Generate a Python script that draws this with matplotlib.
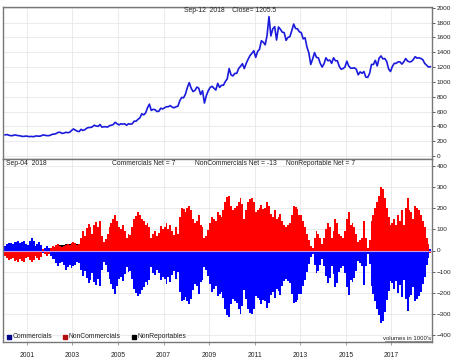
import numpy as np
import matplotlib.pyplot as plt
from matplotlib.patches import Rectangle

# monthly closes, Jan 2000 .. Sep 2018
price = [
    285, 290, 280, 275, 275, 285, 280, 275, 272, 265, 265, 270,
    265, 262, 265, 260, 270, 270, 267, 272, 285, 280, 275, 275,
    282, 295, 295, 305, 320, 320, 305, 310, 320, 315, 320, 345,
    365, 350, 335, 330, 360, 345, 355, 375, 385, 385, 395, 415,
    405, 400, 425, 390, 395, 395, 390, 410, 415, 425, 455, 435,
    420, 435, 430, 435, 415, 435, 430, 435, 470, 470, 495, 515,
    570, 555, 580, 650, 700, 615, 630, 625, 600, 605, 645, 635,
    650, 665, 665, 680, 660, 650, 665, 670, 745, 790, 785, 835,
    925, 990, 915, 870, 885, 930, 915, 830, 880, 715, 815, 880,
    925, 940, 915, 890, 980, 925, 955, 955, 1005, 1040, 1180, 1095,
    1080, 1115, 1115, 1180, 1210, 1245, 1180, 1250, 1305, 1355, 1385, 1420,
    1330, 1410, 1440, 1555, 1535, 1500, 1630, 1880, 1620, 1715, 1745, 1565,
    1740, 1710, 1670, 1665, 1560, 1600, 1610, 1690, 1780, 1720, 1715, 1675,
    1665, 1580, 1595, 1470, 1390, 1235, 1310, 1395, 1330, 1325, 1250, 1200,
    1245, 1325, 1285, 1295, 1250, 1325, 1285, 1285, 1210, 1170, 1180, 1200,
    1280, 1215, 1185, 1185, 1190, 1170, 1095, 1135, 1115, 1140, 1065, 1060,
    1115, 1235, 1235, 1290, 1215, 1320, 1350, 1310, 1315, 1275, 1175, 1140,
    1210, 1250, 1250, 1270, 1270, 1240, 1270, 1315, 1280, 1270, 1275, 1300,
    1340, 1320, 1325, 1315, 1300, 1250, 1225, 1200, 1205,
]

# net positions (1000's), same months
noncomm = [
    -25, -35, -45, -40, -35, -50, -45, -55, -40, -50, -55, -35,
    -30, -45, -55, -45, -25, -35, -45, -30, 5, -15, -25, -15,
    10, 20, 15, 25, 30, 20, 15, 20, 25, 30, 25, 35,
    40, 35, 25, 30, 60, 90, 70, 105, 125, 110, 80, 120,
    135, 110, 140, 70, 40, 55, 80, 110, 130, 150, 170, 140,
    110, 100, 120, 90, 60, 80, 75, 110, 150, 165, 180, 170,
    150, 140, 120, 130, 110, 60, 80, 90, 70, 85, 115, 100,
    110, 130, 100, 120, 90, 75, 110, 80, 160, 200, 195, 180,
    200, 210, 190, 150, 130, 140, 170, 120, 110, 60, 70, 95,
    130, 160, 150, 140, 180, 170, 160, 190, 230, 255, 260, 210,
    190, 200, 210, 230, 250, 220, 150, 190, 230, 245, 250, 230,
    180, 190, 200, 215, 195, 200, 230, 210, 175, 160, 190, 150,
    160, 175, 140, 120, 110, 120, 130, 170, 210, 205, 195, 170,
    170, 140, 110, 80, 50, 20, 10, 60, 90, 80, 60, 30,
    60, 100, 130, 110, 60, 90, 150, 130, 80, 70, 60, 90,
    150, 180, 120, 130, 110, 80, 40, 50, 60, 140, 60, 10,
    50, 140, 170, 200, 230, 260, 300, 290, 250, 200, 160, 120,
    130, 150, 120, 170, 140, 190, 120, 200, 250, 190, 180, 150,
    210, 200, 190, 170, 140, 110, 60, 30, -13,
]

comm = [
    20, 30, 35, 35, 30, 40, 40, 45, 35, 40, 45, 30,
    25, 45, 60, 45, 20, 30, 40, 25, -10, 10, 20, 10,
    -25, -40, -40, -60, -75, -60, -55, -70, -90, -80, -70, -85,
    -75, -70, -55, -60, -90, -120, -95, -130, -155, -140, -105, -150,
    -165, -135, -170, -90, -55, -70, -100, -135, -160, -180, -205, -170,
    -135, -125, -145, -110, -80, -100, -95, -135, -180, -200, -215, -205,
    -185, -175, -150, -165, -140, -80, -105, -115, -90, -105, -140, -125,
    -135, -160, -125, -150, -115, -95, -135, -100, -195, -240, -235, -220,
    -240, -255, -230, -185, -160, -170, -205, -150, -140, -80, -90, -120,
    -160, -195, -180, -170, -215, -205, -195, -225, -275, -305, -315, -255,
    -230, -240, -250, -275, -300, -265, -185, -230, -275, -295, -300, -275,
    -215, -225, -235, -255, -235, -240, -270, -250, -210, -195, -225, -180,
    -190, -210, -170, -145, -135, -145, -155, -205, -250, -245, -235, -205,
    -205, -170, -140, -100, -65, -30, -15, -70, -105, -95, -70, -40,
    -75, -120, -155, -130, -75, -110, -175, -155, -100, -85, -75, -105,
    -175, -210, -140, -150, -130, -95, -50, -60, -75, -165, -75, -15,
    -65, -170, -205, -240, -275, -305, -345, -335, -290, -235, -190, -145,
    -155, -180, -145, -200, -165, -220, -140, -230, -285, -220, -210, -175,
    -240, -230, -215, -195, -160, -125, -70, -35, 7,
]

nonrep = [
    5, 5, 10, 5, 5, 10, 5, 10, 5, 10, 10, 5,
    5, 5, 5, 5, 5, 5, 5, 5, 5, 5, 5, 5,
    10, 15, 15, 20, 25, 25, 25, 25, 30, 30, 30, 35,
    35, 35, 30, 30, 30, 30, 25, 25, 30, 30, 25, 30,
    30, 25, 30, 20, 15, 15, 20, 25, 30, 30, 35, 30,
    25, 25, 25, 20, 20, 20, 20, 25, 30, 35, 35, 35,
    35, 35, 30, 35, 30, 20, 25, 25, 20, 20, 25, 25,
    25, 30, 25, 30, 25, 20, 25, 20, 35, 40, 40, 40,
    40, 45, 40, 35, 30, 30, 35, 30, 30, 20, 20, 25,
    30, 35, 30, 30, 35, 35, 35, 35, 45, 50, 55, 45,
    40, 40, 40, 45, 50, 45, 35, 40, 45, 50, 50, 45,
    35, 35, 35, 40, 40, 40, 40, 40, 35, 35, 35, 30,
    30, 35, 30, 25, 25, 25, 25, 35, 40, 40, 40, 35,
    35, 30, 30, 20, 15, 10, 5, 10, 15, 15, 10, 10,
    15, 20, 25, 20, 15, 20, 25, 25, 20, 15, 15, 15,
    25, 30, 20, 20, 20, 15, 10, 10, 15, 25, 15, 5,
    15, 30, 35, 40, 45, 45, 45, 45, 40, 35, 30, 25,
    25, 30, 25, 30, 25, 30, 20, 30, 35, 30, 30, 25,
    30, 30, 25, 25, 20, 15, 10, 5, 7,
]

year_ticks = [2001, 2003, 2005, 2007, 2009, 2011, 2013, 2015, 2017]
price_ticks = list(range(0, 2001, 200))
net_ticks = list(range(-400, 401, 100))

t = 2000 + (np.arange(len(price)) + 0.5) / 12

plt.rcParams['font.family'] = ['Liberation Sans', 'DejaVu Sans']
W, H = 452, 360
fig = plt.figure(figsize=(W / 100, H / 100), dpi=100)
fig.patch.set_facecolor('white')


def box(x0, y0, x1, y1):
    return [x0 / W, 1 - y1 / H, (x1 - x0) / W, (y1 - y0) / H]


ax1 = fig.add_axes(box(3, 7, 432, 159))
ax2 = fig.add_axes(box(3, 159, 432, 342))

for ax in (ax1, ax2):
    ax.set_xlim(1999.95, 2018.78)
    ax.set_xticks(year_ticks)
    ax.grid(True, color='#e8e8e8', linewidth=0.6)
    ax.set_axisbelow(True)
    ax.yaxis.tick_right()
    ax.tick_params(axis='y', labelsize=4.6, length=2.5, width=0.6, pad=1,
                   colors='#444444', labelcolor='#222222')
    for s in ax.spines.values():
        s.set_color('#777777')
        s.set_linewidth(1.0)

ax1.plot(t, price, color='#1a1adc', linewidth=1.2)
ax1.set_ylim(-40, 2010)
ax1.set_yticks(price_ticks)
ax1.tick_params(axis='x', length=0, labelbottom=False)

w = 1 / 12
ax2.bar(t, nonrep, width=w, color='black', linewidth=0)
ax2.bar(t, noncomm, width=w, color='#ff0000', linewidth=0)
ax2.bar(t, comm, width=w, color='#0000ff', linewidth=0)
ax2.axhline(0, color='#c8a0e8', linewidth=0.8)
ax2.set_ylim(-433, 433)
ax2.set_yticks(net_ticks)
ax2.set_xticklabels([str(y) for y in year_ticks])
ax2.tick_params(axis='x', labelsize=4.9, length=2, width=0.5, pad=5,
                colors='#777777', labelcolor='#222222')

fs = 4.9
fig.text(230 / W, 1 - 10.5 / H, 'Sep-12  2018    Close= 1205.5', fontsize=fs,
         ha='center', va='center', color='#222222')
fig.text(6 / W, 1 - 164 / H, 'Sep-04  2018', fontsize=fs, va='center', color='#222222')
fig.text(112 / W, 1 - 164 / H, 'Commercials Net = 7', fontsize=fs, va='center', color='#222222')
fig.text(195 / W, 1 - 164 / H, 'NonCommercials Net = -13', fontsize=fs, va='center', color='#222222')
fig.text(286 / W, 1 - 164 / H, 'NonReportable Net = 7', fontsize=fs, va='center', color='#222222')

# legend row
legend_items = [(7, '#00008b', 'Commercials'), (63, '#b01010', 'NonCommercials'),
                (132, 'black', 'NonReportables')]
for x0, col, lab in legend_items:
    fig.patches.append(Rectangle((x0 / W, 1 - 339 / H), 4 / W, 4 / H, color=col,
                                 transform=fig.transFigure, figure=fig))
    fig.text((x0 + 6) / W, 1 - 337 / H, lab, fontsize=fs, va='center', color='#222222')
fig.text(431 / W, 1 - 338.5 / H, "volumes in 1000's", fontsize=4.3, ha='right',
         va='center', color='#222222')
fig.add_artist(plt.Line2D([385 / W, 431 / W], [1 - 341 / H, 1 - 341 / H],
                          color='#444444', linewidth=0.4))

fig.savefig('out.png', dpi=100)
